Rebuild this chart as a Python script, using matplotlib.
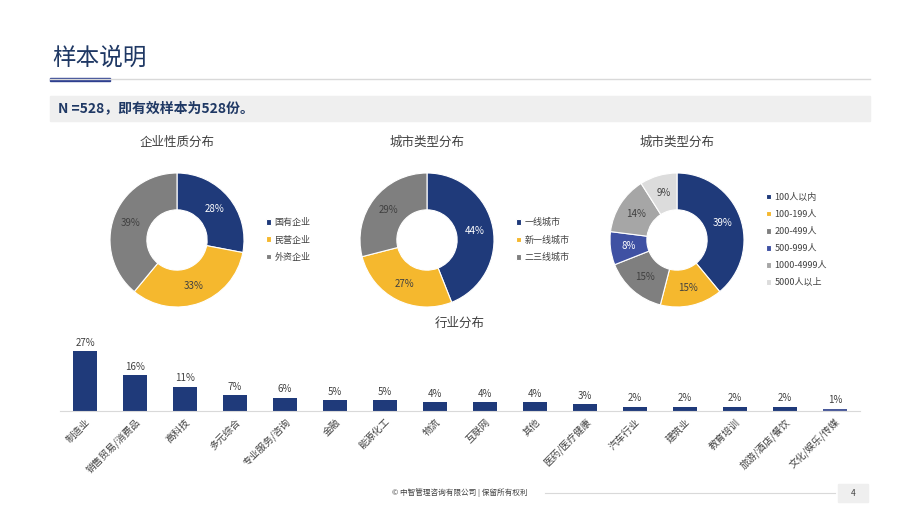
import numpy as np
import matplotlib.pyplot as plt
from matplotlib.patches import Rectangle

plt.rcParams["font.family"] = "Noto Sans CJK SC"

# ------------ Data ------------
nature_labels = ["国有企业", "民营企业", "外资企业"]
nature_vals = [28, 33, 39]
city_labels = ["一线城市", "新一线城市", "二三线城市"]
city_vals = [44, 27, 29]
size_labels = ["100人以内", "100-199人", "200-499人", "500-999人", "1000-4999人", "5000人以上"]
size_vals = [39, 15, 15, 8, 14, 9]
industry = ["制造业", "销售贸易/消费品", "高科技", "多元综合", "专业服务/咨询", "金融", "能源化工",
            "物流", "互联网", "其他", "医药/医疗健康", "汽车行业", "建筑业", "教育培训",
            "旅游/酒店/餐饮", "文化/娱乐/传媒"]
industry_vals = [27, 16, 11, 7, 6, 5, 5, 4, 4, 4, 3, 2, 2, 2, 2, 1]

NAVY = "#1f3a7a"
YELLOW = "#f5b82e"
GRAY = "#7f7f7f"
colors3 = [NAVY, YELLOW, GRAY]
colors6 = [NAVY, YELLOW, GRAY, "#3f51a3", "#a6a6a6", "#dcdcdc"]
txtcol = ["white", "#404040", "#404040"]
txtcol6 = ["white", "#404040", "#404040", "white", "#404040", "#404040"]

W, H = 920, 518
fig = plt.figure(figsize=(9.2, 5.18), dpi=100)


def px(x, y):
    return x / W, 1 - y / H


# --------- Header ----------
fig.text(*px(52, 58), "样本说明", fontsize=17, color="#1f3864", va="center", fontweight="light")
fig.add_artist(plt.Line2D([50 / W, 870 / W], [1 - 79 / H] * 2, color="#d9d9d9", lw=1))
fig.add_artist(Rectangle(px(50, 81), 60 / W, 3 / H, color="#2e3f8f"))
fig.add_artist(Rectangle(px(50, 121), 820 / W, 25 / H, color="#efefef"))
fig.text(*px(58, 108), "N =528，即有效样本为528份。", fontsize=10, color="#1f3864",
         va="center", fontweight="bold")


# --------- Donuts ----------
def donut(cx, cy, title, vals, labels, cols, tcols):
    r = 67
    ax = fig.add_axes([(cx - r) / W, 1 - (cy + r) / H, 2 * r / W, 2 * r / H])
    wedges, _ = ax.pie(vals, colors=cols, startangle=90, counterclock=False,
                       wedgeprops=dict(width=0.55, edgecolor="white", linewidth=0.8))
    ang = 90
    for v, c in zip(vals, tcols):
        mid = np.deg2rad(ang - v * 3.6 / 2)
        ax.text(0.73 * np.cos(mid), 0.73 * np.sin(mid), f"{v}%", ha="center", va="center",
                fontsize=7, color=c)
        ang -= v * 3.6
    ax.set_xlim(-1, 1)
    ax.set_ylim(-1, 1)
    ax.set_aspect("equal")
    fig.text(*px(cx, 142), title, fontsize=9, color="#404040", ha="center", va="center",
             fontweight="light")
    ax.legend(wedges, labels, loc="center left", bbox_to_anchor=(1.1, 0.5), frameon=False,
              fontsize=6.5, handlelength=0.6, handleheight=0.6, labelspacing=0.9,
              handletextpad=0.4, labelcolor="#404040")


donut(177, 240, "企业性质分布", nature_vals, nature_labels, colors3, txtcol)
donut(427, 240, "城市类型分布", city_vals, city_labels, colors3, txtcol)
donut(677, 240, "城市类型分布", size_vals, size_labels, colors6, txtcol6)

# --------- Bars ----------
fig.text(*px(460, 323), "行业分布", fontsize=9, color="#404040", ha="center", va="center",
         fontweight="light")
bx = fig.add_axes([60 / W, 1 - 411 / H, 800 / W, 66.7 / H])
xs = range(len(industry))
bar_cols = [NAVY] * (len(industry) - 1) + ["#4a5a9a"]
bx.bar(xs, industry_vals, width=0.48, color=bar_cols)
for x, v in zip(xs, industry_vals):
    bx.text(x, v + 1.5, f"{v}%", ha="center", va="bottom", fontsize=7, color="#404040")
bx.set_xlim(-0.5, len(industry) - 0.5)
bx.set_ylim(0, 30)
bx.set_yticks([])
bx.set_xticks(list(xs))
bx.set_xticklabels(industry, rotation=45, ha="right", rotation_mode="anchor",
                   fontsize=7, color="#404040")
bx.tick_params(axis="x", length=0, pad=4)
for s in ["top", "right", "left"]:
    bx.spines[s].set_visible(False)
bx.spines["bottom"].set_color("#d9d9d9")

# --------- Footer ----------
fig.text(*px(460, 493), "© 中智管理咨询有限公司 | 保留所有权利", fontsize=5.5, color="#404040",
         ha="center", va="center")
fig.add_artist(plt.Line2D([545 / W, 835 / W], [1 - 493 / H] * 2, color="#d9d9d9", lw=0.8))
fig.add_artist(Rectangle(px(838, 502), 30 / W, 18 / H, color="#efefef"))
fig.text(*px(853, 493), "4", fontsize=6, color="#404040", ha="center", va="center")

fig.savefig("out.png", dpi=100)
